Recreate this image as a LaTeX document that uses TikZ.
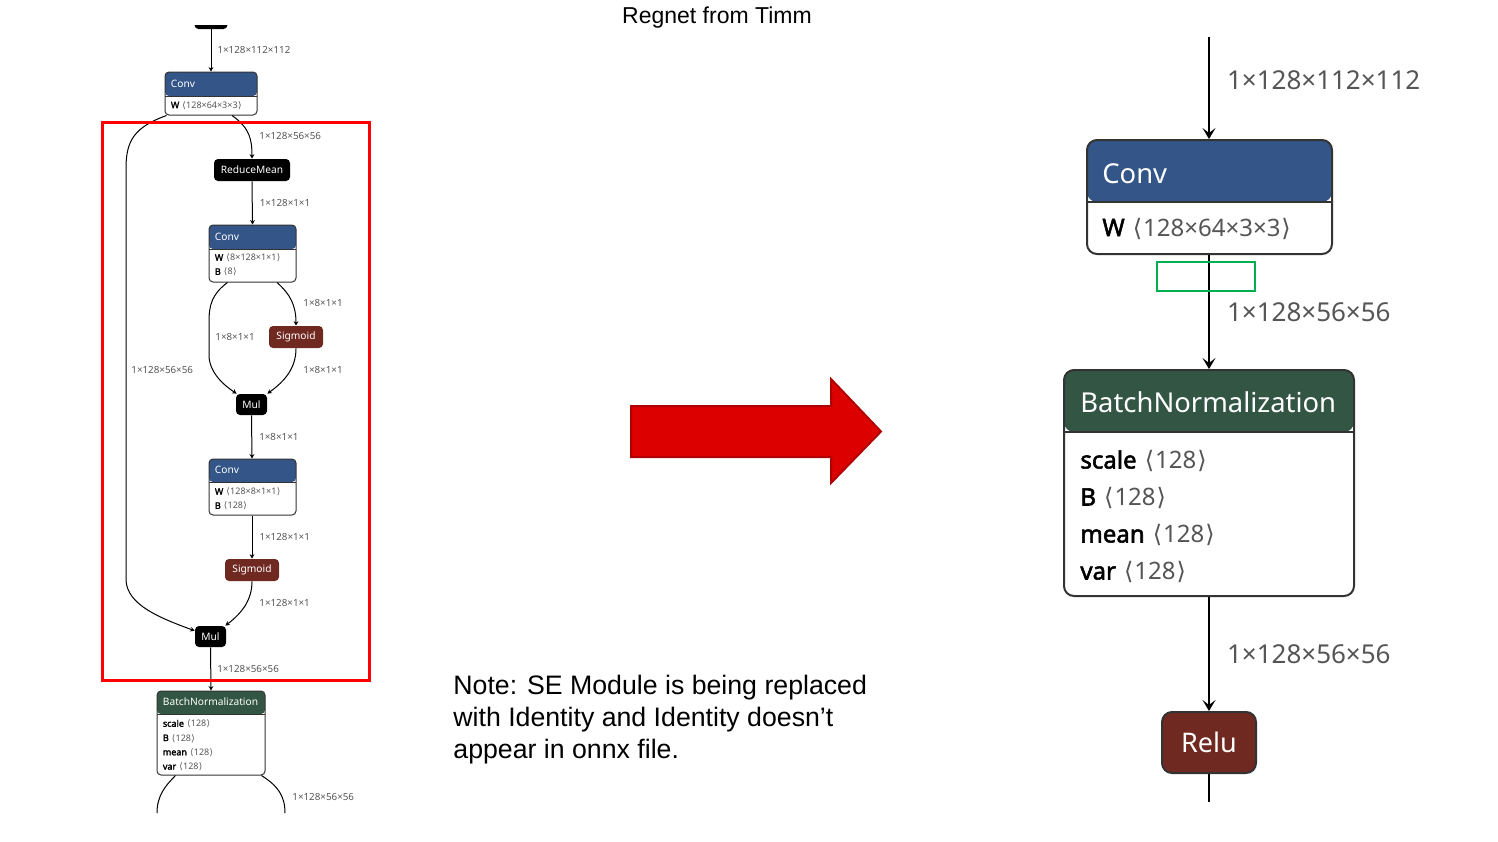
\documentclass[tikz,border=0pt]{standalone}
\usepackage{fontspec}
\setmainfont{Liberation Sans}
\newfontfamily\netfont{Noto Sans}[AutoFakeBold=2.2]
\newfontfamily\symfont{DejaVu Sans}
\usetikzlibrary{arrows.meta,calc,positioning}

\definecolor{convblue}{RGB}{51,85,136}
\definecolor{normgreen}{RGB}{51,85,68}
\definecolor{actbrown}{RGB}{112,41,33}
\definecolor{labelgray}{RGB}{85,85,85}
\definecolor{boxgreen}{RGB}{0,176,80}
\definecolor{arrowred}{RGB}{221,0,0}
\definecolor{arrowedge}{RGB}{176,0,0}

% shape text in angle brackets
\newcommand{\shp}[1]{\hspace{0.08em}{\symfont ⟨}\hspace{0.04em}#1\hspace{0.04em}{\symfont ⟩}}

\tikzset{
  % small graph (left screenshot)
  sedge/.style={line width=0.5pt, -{Stealth[length=2.2pt,width=2.4pt]}},
  slbl/.style={font=\netfont\fontsize{4.9}{6}\selectfont, text=labelgray, inner sep=0, anchor=west},
  shead/.style={font=\netfont\fontsize{5.1}{6}\selectfont, text=white, inner sep=0, anchor=base west},
  sattr/.style={font=\netfont\fontsize{4.5}{5.5}\selectfont, text=labelgray, inner sep=0, anchor=base west},
  sop/.style={fill=#1, text=white, rounded corners=2pt, inner sep=0,
    font=\netfont\fontsize{5.1}{6}\selectfont},
  sop/.default=black,
  sbox/.style 2 args={draw=black!80, line width=0.5pt, fill=white, rounded corners=2pt, inner sep=0,
    path picture={\fill[#1] (path picture bounding box.north west) rectangle
      ([yshift=-#2]path picture bounding box.north east);
      \draw[black!80, line width=0.5pt] ([yshift=-#2]path picture bounding box.north west) --
      ([yshift=-#2]path picture bounding box.north east);}},
  % big graph (right screenshot)
  bedge/.style={line width=1pt, -{Stealth[length=5.5pt,width=6.5pt,inset=2.5pt]}},
  blbl/.style={font=\netfont\fontsize{13}{15}\selectfont, text=labelgray, inner sep=0, anchor=west},
  bhead/.style={font=\netfont\fontsize{13.7}{16}\selectfont, text=white, inner sep=0, anchor=base west},
  battr/.style={font=\netfont\fontsize{12}{14}\selectfont, text=labelgray, inner sep=0, anchor=base west},
  bbox/.style 2 args={draw=black!80, line width=1pt, fill=white, rounded corners=5pt, inner sep=0,
    path picture={\fill[#1] (path picture bounding box.north west) rectangle
      ([yshift=-#2]path picture bounding box.north east);
      \draw[black!80, line width=1pt] ([yshift=-#2]path picture bounding box.north west) --
      ([yshift=-#2]path picture bounding box.north east);}},
}

\begin{document}
\begin{tikzpicture}[x=0.5pt,y=-0.5pt]
\useasboundingbox (0,0) rectangle (1498,841);

\node[font=\fontsize{11.5}{14}\selectfont, inner sep=0, anchor=base] (title) at (717,23) {Regnet from Timm};

%% left: SE module graph
\begin{scope}
\clip (0,25) rectangle (420,813);
\node[sop, minimum width=16.5pt, minimum height=12pt] (topop) at (211,17) {};
\end{scope}

\node[sbox={convblue}{12pt}, minimum width=46pt, minimum height=21.5pt] (conva) at (211,93.5) {};
\node[shead] (conva-t) at ($(conva.north west)+(6,15.6)$) {Conv};
\node[sattr] (conva-w) at ($(conva.north west)+(6,36.7)$) {\textcolor{black}{\bfseries W} \shp{128×64×3×3}};

\node[sop, minimum width=38pt, minimum height=11pt] (rmean) at (252,170) {ReduceMean};

\node[sbox={convblue}{12pt}, minimum width=43.5pt, minimum height=28.5pt] (convb) at (252.5,253.5) {};
\node[shead] (convb-t) at ($(convb.north west)+(6,15.6)$) {Conv};
\node[sattr] (convb-w) at ($(convb.north west)+(6,36.2)$) {\textcolor{black}{\bfseries W} \shp{8×128×1×1}};
\node[sattr] (convb-b) at ($(convb.north west)+(6,50.3)$) {\textcolor{black}{\bfseries B} \shp{8}};

\node[sop=actbrown, minimum width=27pt, minimum height=11pt] (siga) at (296,337) {Sigmoid};
\node[sop, minimum width=15.5pt, minimum height=10.5pt] (mula) at (251.5,404.5) {Mul};

\node[sbox={convblue}{11.5pt}, minimum width=43.5pt, minimum height=28pt] (convc) at (252.5,487) {};
\node[shead] (convc-t) at ($(convc.north west)+(6,15.2)$) {Conv};
\node[sattr] (convc-w) at ($(convc.north west)+(6,36.2)$) {\textcolor{black}{\bfseries W} \shp{128×8×1×1}};
\node[sattr] (convc-b) at ($(convc.north west)+(6,50.3)$) {\textcolor{black}{\bfseries B} \shp{128}};

\node[sop=actbrown, minimum width=27pt, minimum height=11pt] (sigb) at (252,570) {Sigmoid};
\node[sop, minimum width=15.5pt, minimum height=10.5pt] (mulb) at (210.5,636.5) {Mul};

\node[sbox={normgreen}{11.5pt}, minimum width=54pt, minimum height=42pt] (bna) at (211,733) {};
\node[shead] (bna-t) at ($(bna.north west)+(6,15.2)$) {BatchNormalization};
\node[sattr] (bna-s) at ($(bna.north west)+(6,36.2)$) {\textcolor{black}{\bfseries scale} \shp{128}};
\node[sattr] (bna-b) at ($(bna.north west)+(6,50.5)$) {\textcolor{black}{\bfseries B} \shp{128}};
\node[sattr] (bna-m) at ($(bna.north west)+(6,64.8)$) {\textcolor{black}{\bfseries mean} \shp{128}};
\node[sattr] (bna-v) at ($(bna.north west)+(6,79.1)$) {\textcolor{black}{\bfseries var} \shp{128}};

\coordinate (bna-l) at (157,813);
\coordinate (bna-r) at (285,813);

% edges
\draw[sedge] (topop.south) -- node[slbl, xshift=3pt] {1×128×112×112} (conva.north);
\draw[sedge] ($(conva.south)+(21,0)$) .. controls (250,128) and (252,140) .. (rmean.north);
\node[slbl] (l-rm) at (259,136) {1×128×56×56};
\draw[sedge] ($(conva.south west)+(2,0)$) .. controls (135,127) and (126,140) .. (126,168)
  -- (126,580) .. controls (127,605) and (160,618) .. (mulb.160);
\node[slbl] (l-skip) at (131,370) {1×128×56×56};
\draw[sedge] (rmean.south) -- node[slbl, xshift=3.5pt] {1×128×1×1} (convb.north);
\draw[sedge] ($(convb.south)+(-25,0)$) .. controls (212,294) and (209,305) .. (209,322)
  -- (209,355) .. controls (209,373) and (225,386) .. ($(mula.north west)+(1,0)$);
\node[slbl] (l-cb1) at (215,337) {1×8×1×1};
\draw[sedge] ($(convb.south)+(24.5,0)$) .. controls (290,294) and (296,305) .. (siga.north);
\node[slbl] (l-cb2) at (303,303) {1×8×1×1};
\draw[sedge] (siga.south) .. controls (296,368) and (285,381) .. ($(mula.north east)+(0,0)$);
\node[slbl] (l-sa) at (303,370) {1×8×1×1};
\draw[sedge] (mula.south) -- node[slbl, xshift=3.5pt] {1×8×1×1} ($(convc.north)+(-0.5,0)$);
\draw[sedge] ($(convc.south)+(-0.5,0)$) -- node[slbl, xshift=3.5pt] {1×128×1×1} (sigb.north);
\draw[sedge] (sigb.south) .. controls (252,600) and (242,613) .. ($(mulb.north east)+(-1,0)$);
\node[slbl] (l-sb) at (259,603) {1×128×1×1};
\draw[sedge] (mulb.south) -- node[slbl, xshift=3pt] {1×128×56×56} (bna.north);
\draw[line width=0.5pt] ($(bna.south west)+(19,0)$) .. controls (165,786) and (157,796) .. (bna-l);
\draw[line width=0.5pt] ($(bna.south east)+(-4,0)$) .. controls (278,786) and (285,796) .. (bna-r);
\node[slbl] (l-bn) at (292,797) {1×128×56×56};

% SE module frame
\draw[red, line width=1.5pt] (102,122.5) rectangle (369.5,680.5);

%% middle: arrow and note
\filldraw[fill=arrowred, draw=arrowedge, line width=1pt]
  (631,406) -- (831,406) -- (831,379) -- (881,431.5) -- (831,483) -- (831,457) -- (631,457) -- cycle;
\node[font=\fontsize{13.35}{16}\selectfont, inner sep=0, anchor=base west, align=left] (note) at (453,758)
  {Note: SE Module is being replaced\\with Identity and Identity doesn’t\\appear in onnx file.};

%% right: graph after replacement
\coordinate (in-r) at (1209,37);
\node[bbox={convblue}{31pt}, minimum width=122.5pt, minimum height=57pt] (convr) at (1209.5,197) {};
\node[bhead] (convr-t) at ($(convr.north west)+(16,44)$) {Conv};
\node[battr] (convr-w) at ($(convr.north west)+(16,97)$) {\textcolor{black}{\bfseries W} \shp{128×64×3×3}};

\node[bbox={normgreen}{31pt}, minimum width=145pt, minimum height=113pt] (bnr) at (1209,483) {};
\node[bhead] (bnr-t) at ($(bnr.north west)+(17,43.5)$) {BatchNormalization};
\node[battr] (bnr-s) at ($(bnr.north west)+(17,99.5)$) {\textcolor{black}{\bfseries scale} \shp{128}};
\node[battr] (bnr-b) at ($(bnr.north west)+(17,136.5)$) {\textcolor{black}{\bfseries B} \shp{128}};
\node[battr] (bnr-m) at ($(bnr.north west)+(17,173.5)$) {\textcolor{black}{\bfseries mean} \shp{128}};
\node[battr] (bnr-v) at ($(bnr.north west)+(17,210.5)$) {\textcolor{black}{\bfseries var} \shp{128}};

\node[fill=actbrown, draw=black!80, line width=1pt, text=white, rounded corners=5pt, inner sep=0,
  minimum width=47pt, minimum height=30.5pt, font=\netfont\fontsize{13.5}{16}\selectfont] (relur) at (1209,742.5) {Relu};
\coordinate (out-r) at (1209,802);

\draw[bedge] (in-r) -- node[blbl, pos=0.42, xshift=8.5pt] {1×128×112×112} (convr.north -| in-r);
\draw[bedge] (convr.south -| in-r) -- node[blbl, xshift=8.5pt] {1×128×56×56} (bnr.north);
\draw[bedge] (bnr.south) -- node[blbl, xshift=8.5pt] {1×128×56×56} (relur.north);
\draw[line width=1pt] (relur.south) -- (out-r);

% removed connection marker
\draw[boxgreen, line width=1.2pt] (1157,262) rectangle (1255,291);
\end{tikzpicture}
\end{document}
